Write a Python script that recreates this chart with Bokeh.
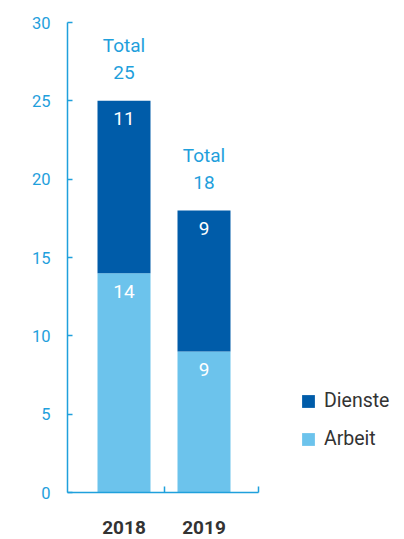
import numpy as np
from bokeh.plotting import figure
from bokeh.models import (Range1d, LinearAxis, FixedTicker, Legend, LegendItem,
                          ColumnDataSource)
from bokeh.core.properties import value
from bokeh.embed import file_html
from bokeh.resources import INLINE

years = ["2018", "2019"]
arbeit = [14, 9]
dienste = [11, 9]
y_ticks = [0, 5, 10, 15, 20, 25, 30]

DARK = "#005ca9"
LIGHT = "#6cc3ec"
AXIS = "#1fa0dc"
GREY = "#333333"
FONT = "Roboto"

x = np.arange(1, len(years) + 1).astype(float)
totals = [a + d for a, d in zip(arbeit, dienste)]
src = ColumnDataSource(dict(x=x, Arbeit=arbeit, Dienste=dienste,
                            total=totals,
                            total_lbl=[str(t) for t in totals],
                            a_lbl=[str(v) for v in arbeit],
                            d_lbl=[str(v) for v in dienste]))

PX = 80.0  # pixels per category step
x_start = 1 - 56.5 / PX
x_axis_end = len(years) + 54.5 / PX
x_end = x_start + (404 - 67) / PX

p = figure(width=404, height=539, output_backend="svg", toolbar_location=None,
           x_range=Range1d(x_start, x_end),
           y_range=Range1d(0, 30),
           min_border_left=67, min_border_top=22, min_border_right=0,
           min_border_bottom=47, x_axis_type=None, y_axis_type=None)
p.outline_line_color = None
p.grid.visible = False
p.background_fill_color = None
p.border_fill_color = "white"

rs = p.vbar_stack(["Arbeit", "Dienste"], x="x", width=0.6625, source=src,
                  color=[LIGHT, DARK], line_color=None)

# y axis
ya = LinearAxis(ticker=FixedTicker(ticks=y_ticks))
ya.axis_line_color = AXIS
ya.axis_line_width = 1.5
ya.major_tick_line_color = AXIS
ya.major_tick_line_width = 1.5
ya.major_tick_in = 5
ya.major_tick_out = 0
ya.minor_tick_line_color = None
ya.major_label_text_color = AXIS
ya.major_label_text_font = FONT
ya.major_label_text_font_size = "16.5px"
ya.major_label_standoff = 17
p.add_layout(ya, "left")

# x axis line with tick marks between categories and at end
mid_ticks = list((x[:-1] + x[1:]) / 2) + [x_axis_end]
xa = LinearAxis(ticker=FixedTicker(ticks=mid_ticks), bounds=(x_start, x_axis_end))
xa.axis_line_color = AXIS
xa.axis_line_width = 1.5
xa.major_tick_line_color = AXIS
xa.major_tick_line_width = 1.5
xa.major_tick_in = 6
xa.major_tick_out = 0
xa.minor_tick_line_color = None
xa.major_label_overrides = {t: "" for t in mid_ticks}
xa.major_label_text_font_size = "1px"
xa.major_label_standoff = 0
p.add_layout(xa, "below")

# category labels
xl = LinearAxis(ticker=FixedTicker(ticks=list(x)))
xl.axis_line_color = None
xl.major_tick_line_color = None
xl.minor_tick_line_color = None
xl.major_label_overrides = {float(xi): yr for xi, yr in zip(x, years)}
xl.major_label_text_font = FONT
xl.major_label_text_font_style = "bold"
xl.major_label_text_font_size = "19px"
xl.major_label_text_color = GREY
xl.major_label_standoff = 22
p.add_layout(xl, "below")

# value labels inside segments
p.text(x="x", y="Arbeit", text="a_lbl", source=src, text_color="white",
       text_align="center", text_baseline="middle", y_offset=18,
       text_font=value(FONT), text_font_size="19px")
p.text(x="x", y="total", text="d_lbl", source=src, text_color="white",
       text_align="center", text_baseline="middle", y_offset=18,
       text_font=value(FONT), text_font_size="19px")

# totals above bars
p.text(x="x", y="total", text="total_lbl", source=src, text_color=AXIS,
       text_align="center", text_baseline="middle", y_offset=-28,
       text_font=value(FONT), text_font_size="19px")
p.text(x="x", y="total", text=value("Total"), source=src, text_color=AXIS,
       text_align="center", text_baseline="middle", y_offset=-55,
       text_font=value(FONT), text_font_size="19px")

legend = Legend(items=[LegendItem(label="Dienste", renderers=[rs[1]]),
                       LegendItem(label="Arbeit", renderers=[rs[0]])],
                location=(233, 42))
legend.border_line_color = None
legend.background_fill_alpha = 0
legend.padding = 0
legend.margin = 0
legend.glyph_width = 16
legend.glyph_height = 16
legend.label_height = 20
legend.spacing = 15
legend.label_standoff = 8
legend.label_text_font = FONT
legend.label_text_font_size = "19.5px"
legend.label_text_color = GREY
p.add_layout(legend, "center")

open("out.html", "w").write(file_html(p, INLINE))
